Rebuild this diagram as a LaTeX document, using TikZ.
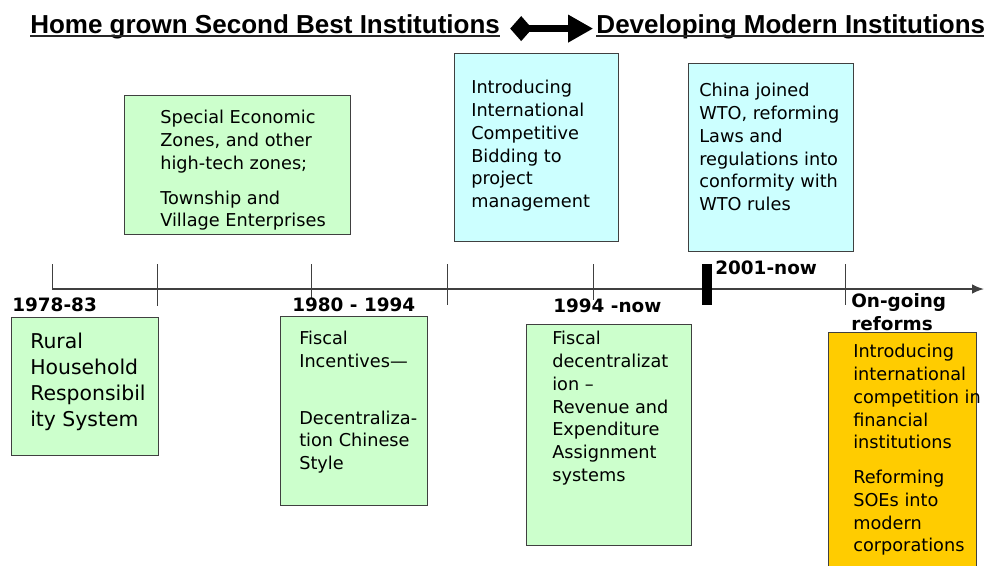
\documentclass[tikz,border=0pt]{standalone}
\usepackage{fontspec}
\setmainfont{DejaVu Sans}
\newfontfamily\titlefont{Liberation Sans}
\usepackage{xcolor}
\usetikzlibrary{arrows.meta,positioning}

\definecolor{boxgreen}{HTML}{CCFFCC}
\definecolor{boxcyan}{HTML}{CCFFFF}
\definecolor{boxgold}{HTML}{FFCC00}
\definecolor{linegray}{HTML}{404040}

\begin{document}
\begin{tikzpicture}[x=0.25mm,y=-0.25mm,node distance=24mm]

\tikzset{panel/.style={draw=linegray,line width=0.3mm,anchor=north west,inner sep=0pt}}
\tikzset{panel text/.style={anchor=north west,inner sep=0pt,align=left,font=\fontsize{12.6pt}{16.2pt}\selectfont}}
\tikzset{year label/.style={inner sep=0pt,font=\bfseries\fontsize{13.1pt}{16.4pt}\selectfont}}
\tikzset{heading/.style={inner sep=0pt,font=\titlefont\bfseries\fontsize{18.5pt}{22pt}\selectfont}}

\useasboundingbox (0,0) rectangle (984,565);

\node[heading,anchor=base west] (home) at (30,33) {Home grown Second Best Institutions};
\node[heading,right=24mm of home] (modern) {Developing Modern Institutions};

\draw[black!85,line width=0.55mm] ([yshift=-2.2pt]home.base west) -- ([yshift=-2.2pt]home.base east);
\draw[black!85,line width=0.55mm] ([yshift=-2.2pt]modern.base west) -- ([yshift=-2.2pt]modern.base east);

\draw[line width=1.75mm,{Diamond[length=5.5mm,width=6.25mm]}-{Triangle[length=6.25mm,width=6.5mm]},
  shorten <=2.5mm,shorten >=0.75mm] ([yshift=-1.6pt]home.east) -- ([yshift=-1.6pt]modern.west);

\coordinate (tlstart) at (52,289);
\coordinate (tlend) at (984,289);
\draw[linegray,line width=0.4mm,-{Latex[length=3mm,width=2.4mm]}] (tlstart) -- (tlend);
\foreach \x/\y in {52/289,157/306,311/298,447/305,593/300,845/305}
  \draw[linegray,line width=0.25mm] (\x,264) -- (\x,\y);
\fill (702,264) rectangle (712,305);

\node[panel,fill=boxgreen,minimum width=56.5mm,minimum height=34.75mm] (sez) at (124,95) {};
\node[panel text] (sez text) at ([shift={(36,15)}]sez.north west)
  {Special Economic\\Zones, and other\\high-tech zones;\\[8.5pt]Township and\\Village Enterprises};

\node[panel,fill=boxcyan,minimum width=41mm,minimum height=47mm] (icb) at (454,53) {};
\node[panel text] (icb text) at ([shift={(17,27)}]icb.north west)
  {Introducing\\International\\Competitive\\Bidding to\\project\\management};

\node[panel,fill=boxcyan,minimum width=41.25mm,minimum height=47mm] (wto) at (688,63) {};
\node[panel text] (wto text) at ([shift={(11,20)}]wto.north west)
  {China joined\\WTO, reforming\\Laws and\\regulations into\\conformity with\\WTO rules};

\node[panel,fill=boxgreen,minimum width=36.75mm,minimum height=34.5mm] (rural) at (11,317) {};
\node[panel text,font=\fontsize{14.5pt}{18.5pt}\selectfont] (rural text) at ([shift={(19,16)}]rural.north west)
  {Rural\\Household\\Responsibil\\ity System};

\node[panel,fill=boxgreen,minimum width=36.75mm,minimum height=47.25mm] (fiscal) at (280,316) {};
\node[panel text] (fiscal text) at ([shift={(19,15)}]fiscal.north west)
  {Fiscal\\Incentives—\\[24pt]Decentraliza-\\tion Chinese\\Style};

\node[panel,fill=boxgreen,minimum width=41.25mm,minimum height=55.25mm] (decent) at (526,324) {};
\node[panel text] (decent text) at ([shift={(26,7)}]decent.north west)
  {Fiscal\\decentralizat\\ion –\\Revenue and\\Expenditure\\Assignment\\systems};

\node[panel,fill=boxgold,minimum width=37mm,minimum height=60mm] (reform) at (828,332) {};
\node[panel text] (reform text) at ([shift={(25,12)}]reform.north west)
  {Introducing\\international\\competition in\\financial\\institutions\\[8.5pt]Reforming\\SOEs into\\modern\\corporations};

\node[year label,anchor=west] (y7883) at (12,305) {1978-83};
\node[year label,anchor=west] (y8094) at (292,305) {1980 - 1994};
\node[year label,anchor=west] (y94now) at (553,306) {1994 -now};
\node[year label,anchor=west] (y01now) at (715,268) {2001-now};
\node[year label,anchor=north west,align=left] (ongoing) at (851,293) {On-going\\reforms};

\end{tikzpicture}
\end{document}
